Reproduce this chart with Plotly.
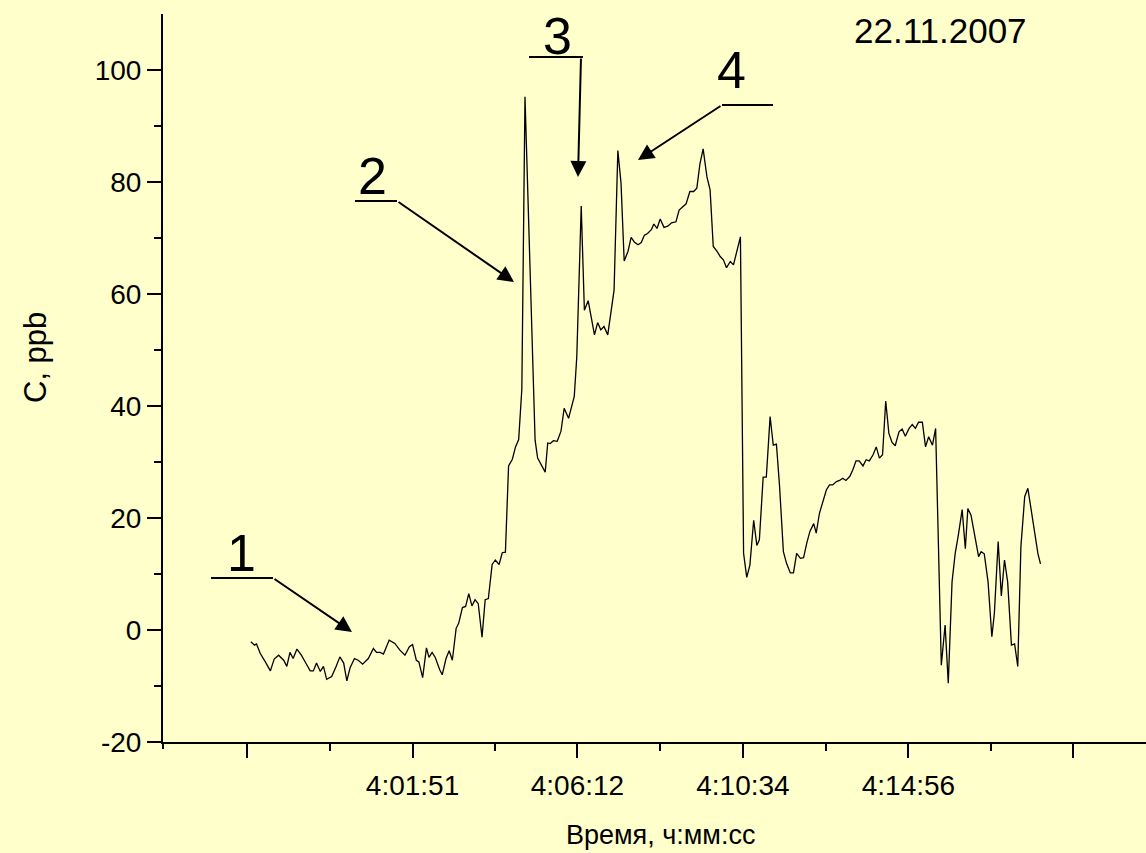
import plotly.graph_objects as go

# ---- data ----
START_TIME = "3:57:35"
elapsed_s = [0, 6, 9, 15, 23, 31, 37, 44, 52, 57, 62, 67, 73, 80, 87, 94, 99, 104, 110, 115,
             120, 128, 135, 141, 147, 152, 157, 164, 170, 177, 186, 194, 199, 205, 210, 219, 228, 236, 244, 251,
             256, 262, 266, 272, 278, 282, 287, 292, 299, 303, 309, 314, 319, 325, 329, 335, 340, 345, 350, 355,
             360, 366, 371, 376, 382, 387, 393, 398, 403, 408, 414, 419, 424, 429, 434, 450, 454, 466, 470, 474,
             479, 485, 491, 496, 503, 512, 516, 523, 528, 534, 544, 549, 554, 559, 565, 575, 581, 586, 591, 597,
             602, 607, 613, 618, 623, 628, 634, 638, 643, 648, 654, 660, 666, 673, 678, 684, 689, 695, 701, 706,
             711, 716, 722, 727, 732, 738, 743, 748, 753, 759, 764, 775, 780, 785, 790, 796, 801, 805, 811, 816,
             822, 827, 832, 837, 843, 848, 854, 859, 864, 870, 875, 880, 885, 891, 895, 900, 905, 911, 916, 921,
             927, 932, 937, 942, 948, 953, 958, 963, 969, 974, 979, 985, 990, 995, 1000, 1005, 1010, 1015, 1020, 1026,
             1031, 1036, 1042, 1047, 1052, 1057, 1063, 1068, 1073, 1079, 1084, 1093, 1099, 1104, 1110, 1115, 1120, 1126, 1131, 1135,
             1140, 1147, 1152, 1156, 1161, 1167, 1173, 1177, 1183, 1188, 1193, 1198, 1204, 1209, 1214, 1219, 1225, 1230, 1235, 1240,
             1246, 1250]
conc_ppb = [-2.1, -2.7, -2.5, -4.2, -5.7, -7.3, -5.2, -4.5, -5.4, -6.5, -4.0, -5.1, -3.4, -4.5, -5.9, -7.3, -7.3, -5.9, -7.4, -6.5,
            -8.8, -8.3, -6.5, -4.8, -5.9, -9.1, -6.8, -5.1, -5.4, -6.1, -5.1, -3.3, -4.0, -4.0, -4.3, -1.8, -2.4, -3.6, -4.5, -3.0,
            -2.6, -5.4, -5.7, -8.5, -3.2, -4.9, -4.0, -4.9, -7.1, -8.0, -5.1, -3.7, -5.4, 0.3, 1.2, 4.0, 4.2, 6.5, 4.3, 5.4,
            4.7, -1.3, 5.4, 5.6, 11.7, 12.5, 11.7, 13.8, 13.9, 29.3, 30.5, 32.7, 34.0, 43.0, 95.2, 33.9, 30.7, 28.2, 33.4, 33.3,
            33.8, 33.7, 35.5, 39.6, 37.8, 41.7, 48.8, 75.7, 57.1, 58.8, 52.7, 54.9, 53.6, 54.2, 52.7, 60.7, 85.6, 79.8, 65.9, 67.6,
            70.1, 69.3, 68.8, 69.2, 70.5, 70.8, 71.5, 72.5, 71.7, 73.4, 71.9, 72.1, 72.7, 72.9, 75.0, 75.7, 76.1, 78.3, 78.3, 78.9,
            83.3, 85.9, 80.9, 78.6, 68.5, 67.6, 66.7, 66.1, 64.7, 65.8, 65.2, 70.2, 13.7, 9.4, 11.6, 19.6, 15.1, 16.1, 27.3, 27.3,
            38.1, 33.0, 33.2, 25.6, 14.0, 11.9, 10.2, 10.2, 13.7, 12.8, 12.9, 15.5, 17.6, 19.0, 17.3, 20.8, 22.6, 25.0, 25.9, 25.9,
            26.5, 26.7, 27.1, 26.7, 27.4, 28.6, 30.2, 30.2, 29.3, 30.4, 30.2, 31.3, 32.7, 30.7, 31.3, 40.9, 35.1, 33.5, 32.9, 35.4,
            35.9, 34.6, 36.0, 36.7, 36.0, 37.1, 37.1, 32.7, 34.5, 33.0, 36.0, -6.3, 0.9, -9.5, 8.6, 13.7, 17.0, 21.5, 14.5, 21.7,
            20.5, 15.8, 13.1, 14.0, 13.6, 8.6, -1.2, 3.0, 15.8, 6.1, 12.5, 8.6, -2.7, -2.5, -6.5, 14.9, 23.8, 25.3, 21.4, 17.6,
            13.6, 11.8]

X_TICK_TIMES = ["3:57:29", "4:01:51", "4:06:12", "4:10:34", "4:14:56", "4:19:17"]
X_TICK_SHOWN = [False, True, True, True, True, False]
Y_TICKS = [-20, 0, 20, 40, 60, 80, 100]
Y_MINOR = [-10, 10, 30, 50, 70, 90]
DATE_LABEL = "22.11.2007"
MARKERS = ["1", "2", "3", "4"]


def to_sec(s):
    h, m, sec = (int(p) for p in s.split(":"))
    return h * 3600 + m * 60 + sec


t0 = to_sec(START_TIME)
x_vals = [t0 + e for e in elapsed_s]
tick_vals = [to_sec(s) for s in X_TICK_TIMES]
tick_text = [s if show else "" for s, show in zip(X_TICK_TIMES, X_TICK_SHOWN)]
minor_vals = [(a + b) / 2 for a, b in zip(tick_vals[:-1], tick_vals[1:])]
y_text = [str(v) for v in Y_TICKS]  # plain hyphen-minus as in the original

BG = "#FFFFCC"
FONT = "Liberation Sans, Arial, sans-serif"

fig = go.Figure()
fig.add_trace(go.Scatter(x=x_vals, y=conc_ppb, mode="lines",
                         line=dict(color="black", width=1.3), showlegend=False,
                         hoverinfo="skip"))

W, H = 1146, 853
ML, MR, MT, MB = 163, 0, 14, 111
PW, PH = W - ML - MR, H - MT - MB


def px(x):
    return (x - ML) / PW


def py(y):
    return (H - MB - y) / PH


fig.update_layout(
    width=W, height=H,
    margin=dict(l=ML, r=MR, t=MT, b=MB),
    paper_bgcolor=BG, plot_bgcolor=BG,
    font=dict(family=FONT, color="black", size=28),
    showlegend=False,
)
fig.update_xaxes(
    range=[14116, 15672], showgrid=False, zeroline=False,
    showline=True, linecolor="black", linewidth=2,
    tickmode="array", tickvals=tick_vals, ticktext=tick_text,
    ticks="outside", ticklen=14, tickwidth=2, tickcolor="black",
    tickfont=dict(size=28), ticklabelstandoff=3,
    minor=dict(tickmode="array", tickvals=minor_vals, ticks="outside",
               ticklen=7, tickwidth=2, tickcolor="black"),
)
fig.update_yaxes(
    range=[-20, 110], showgrid=False, zeroline=False,
    showline=True, linecolor="black", linewidth=2,
    tickmode="array", tickvals=Y_TICKS, ticktext=y_text,
    ticks="outside", ticklen=14, tickwidth=2, tickcolor="black",
    tickfont=dict(size=28),
    minor=dict(tickmode="array", tickvals=Y_MINOR, ticks="outside",
               ticklen=7, tickwidth=2, tickcolor="black"),
)

# small extension of the y axis below the x axis
fig.add_shape(type="line", xref="paper", yref="paper", x0=0, x1=0, y0=0, y1=-7 / PH,
              line=dict(color="black", width=2))

# axis titles and date
fig.add_annotation(x=px(35), y=py(358), xref="paper", yref="paper", text="C, ppb",
                   textangle=-90, showarrow=False, font=dict(size=31),
                   xanchor="center", yanchor="middle")
fig.add_annotation(x=px(660), y=py(835), xref="paper", yref="paper", text="Время, ч:мм:сс",
                   showarrow=False, font=dict(size=27), xanchor="center", yanchor="middle")
fig.add_annotation(x=px(940), y=py(30), xref="paper", yref="paper", text=DATE_LABEL,
                   showarrow=False, font=dict(size=35), xanchor="center", yanchor="middle")

# numbered markers: label centre, underline, arrow tail, arrow tip (pixels)
marker_layout = [
    ((241, 553), (211, 273, 578), (273, 578), (352, 632)),
    ((372, 176), (355, 397, 201), (397, 201), (514, 282)),
    ((557, 36), (529, 583, 57), (581, 57), (578, 177)),
    ((731, 70), (722, 773, 105), (722, 105), (638, 160)),
]
for label, (lc, ul, tail, tip) in zip(MARKERS, marker_layout):
    fig.add_annotation(x=px(lc[0]), y=py(lc[1]), xref="paper", yref="paper", text=label,
                       showarrow=False, font=dict(size=52), xanchor="center", yanchor="middle")
    fig.add_shape(type="line", xref="paper", yref="paper",
                  x0=px(ul[0]), x1=px(ul[1]), y0=py(ul[2]), y1=py(ul[2]),
                  line=dict(color="black", width=2))
    fig.add_annotation(x=px(tip[0]), y=py(tip[1]), xref="paper", yref="paper",
                       ax=tail[0] - tip[0], ay=tail[1] - tip[1], axref="pixel", ayref="pixel",
                       text="", showarrow=True, arrowhead=2, arrowsize=1.6, arrowwidth=2,
                       arrowcolor="black")

fig.write_html("out.html")
